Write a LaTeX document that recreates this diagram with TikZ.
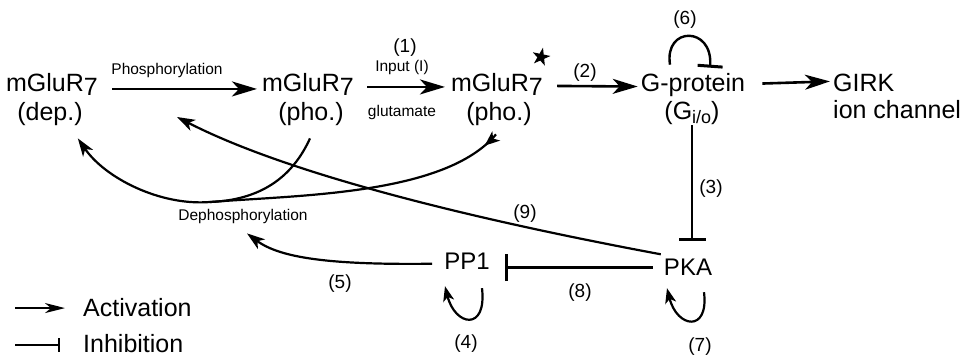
\documentclass[tikz,border=0pt]{standalone}
\usepackage{fontspec}
\setmainfont{Liberation Sans}
\usetikzlibrary{arrows.meta,shapes.geometric,decorations.markings}
\begin{document}
\begin{tikzpicture}[x=1pt,y=-1pt,
  lab/.style={inner sep=0pt, anchor=base, font=\fontsize{25}{25}\selectfont},
  enz/.style={inner sep=0pt, anchor=base, font=\fontsize{24}{24}\selectfont},
  small/.style={inner sep=0pt, anchor=base, font=\fontsize{15.5}{15.5}\selectfont},
  num/.style={inner sep=0pt, anchor=base, font=\fontsize{19}{19}\selectfont},
  act/.style={line width=2.6pt, -{Stealth[length=25pt,width=15pt,inset=7pt]}},
  cur/.style={line width=2.2pt, -{Stealth[length=18pt,width=12pt,inset=5pt]}},
  loopact/.style={line width=2.2pt, -{Stealth[length=15pt,width=11pt,inset=4pt]}},
  inh/.style={line width=2.6pt, -{Bar[width=27pt,line width=3.4pt]}},
  plain/.style={line width=2.2pt}
]
\useasboundingbox (0,0) rectangle (970,356);

% main nodes
\node[lab] (m1a) at (52,91) {mGluR\raisebox{-4pt}{7}};
\node[lab] (m1b) at (50,120) {(dep.)};
\node[lab] (m2a) at (308,91) {mGluR\raisebox{-4pt}{7}};
\node[lab] (m2b) at (311,120) {(pho.)};
\node[lab] (m3a) at (497,91) {mGluR\raisebox{-4pt}{7}};
\node[lab] (m3b) at (499,120) {(pho.)};
\node[star, star points=5, star point ratio=2.6, fill=black, inner sep=0pt, minimum size=19pt, rotate=-12] (star) at (541,57) {};
\node[lab] (g1) at (693,91) {G-protein};
\node[lab] (g2) at (692,119) {(G\raisebox{-4pt}{\fontsize{18}{18}\selectfont i/o})};
\node[lab, anchor=base west] (girk1) at (833,91) {GIRK};
\node[lab, anchor=base west] (girk2) at (833,118) {ion channel};
\node[enz] (pp1) at (467,269) {PP1};
\node[enz] (pka) at (688,275) {PKA};

% small labels
\node[small] (phl) at (167,74) {Phosphorylation};
\node[num] (n1) at (405,52) {(1)};
\node[small] (inp) at (402,71) {Input (I)};
\node[small] (glu) at (402,116) {glutamate};
\node[num] (n2) at (585,77) {(2)};
\node[num] (n6) at (685,24) {(6)};
\node[num] (n3) at (711,193) {(3)};
\node[num] (n9) at (525,218) {(9)};
\node[num] (n5) at (340,288) {(5)};
\node[num] (n8) at (580,297) {(8)};
\node[num] (n4) at (466,348) {(4)};
\node[num] (n7) at (700,351) {(7)};
\node[small] (deph) at (243,220) {Dephosphorylation};

% legend
\node[lab, anchor=base west] (actl) at (83,316) {Activation};
\node[lab, anchor=base west] (inhl) at (83,352) {Inhibition};
\draw[line width=2pt, -{Stealth[length=20pt,width=10pt,inset=6pt]}] ([xshift=-68pt,yshift=-1pt]actl.west) -- ([xshift=-18pt,yshift=-1pt]actl.west);
\draw[line width=2pt, -{Bar[width=14pt,line width=2pt]}] ([xshift=-68pt,yshift=-2pt]inhl.west) -- ([xshift=-23pt,yshift=-2pt]inhl.west);

% straight activations
\draw[act] ([xshift=14pt,yshift=-5pt]m1a.east) -- ([xshift=-5pt,yshift=-5pt]m2a.west);
\draw[act] ([xshift=13pt,yshift=-3pt]m2a.east) -- ([xshift=-6pt,yshift=-3pt]m3a.west);
\draw[act] ([xshift=14pt,yshift=-2pt]m3a.east) -- ([xshift=-3pt,yshift=-2pt]g1.west);
\draw[act] ([xshift=17pt,yshift=1pt]g1.east) -- ([xshift=-3pt,yshift=1pt]girk1.west);

% inhibitions
\draw[inh] ([yshift=-1pt]g2.south) -- ([yshift=17pt]g2.south |- pka.north);
\draw[inh] ([xshift=-11pt,yshift=-1pt]pka.west) -- ([xshift=15pt,yshift=-1pt]pka.west -| pp1.east);
\draw[line width=2.4pt, -{Bar[width=25pt,line width=3pt]}] ([xshift=-23pt,yshift=8pt]g1.north) .. controls (664,26) and (713,26) .. ([xshift=17pt,yshift=5pt]g1.north);

% (9) PKA -> phosphorylation
\coordinate (phos) at (177,117);
\draw[cur] ([xshift=-3pt,yshift=4pt]pka.north west) .. controls (450,215) and (280,170) .. (phos);

% (5) PP1 -> dephosphorylation
\draw[cur] ([xshift=-12pt,yshift=-3pt]pp1.west) .. controls (330,265) and (280,258) .. ([xshift=4pt,yshift=-10pt]deph.south);

% self loops
\draw[loopact] ([xshift=15pt,yshift=-19pt]pp1.south) .. controls (487,332) and (455,326) .. ([xshift=-22pt,yshift=-17pt]pp1.south);
\draw[loopact] ([xshift=16pt,yshift=-17pt]pka.south) .. controls (709,333) and (677,328) .. ([xshift=-21pt,yshift=-13pt]pka.south);

% dephosphorylation curves
\coordinate (dj) at (210,202);
\draw[cur, postaction={decorate}, decoration={markings, mark=at position 16pt with {\arrow{Stealth[length=15pt,width=12pt,inset=4pt]}}}]
  ([xshift=-3pt,yshift=-9pt]m3b.south) .. controls (445,195) and (300,195) .. (dj)
  .. controls (160,206) and (105,178) .. ([xshift=-5pt,yshift=-13pt]m1b.south east);
\draw[plain] ([xshift=-1pt,yshift=-13pt]m2b.south) .. controls (292,178) and (260,200) .. (dj);
\end{tikzpicture}
\end{document}
